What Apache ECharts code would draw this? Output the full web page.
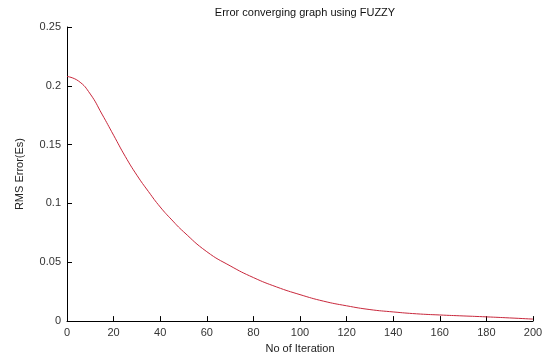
<!DOCTYPE html>
<html>
<head>
<meta charset="utf-8">
<script src="https://cdn.jsdelivr.net/npm/echarts@6/dist/echarts.min.js"></script>
<style>
  html, body { margin: 0; padding: 0; background: #fff; }
  #chart { width: 553px; height: 359px; }
</style>
</head>
<body>
<div id="chart"></div>
<script>
// iteration numbers and RMS error
let iterations = [0, 5, 10, 15, 20, 25, 30, 35, 40, 45, 50, 60, 70, 80, 90, 100, 110, 120, 130, 140, 150, 160, 170, 180, 190, 200];
let rmsError = [0.208, 0.204, 0.193, 0.176, 0.158, 0.140, 0.124, 0.110, 0.097, 0.086, 0.076, 0.059, 0.047, 0.037, 0.029, 0.0225, 0.017, 0.013, 0.0098, 0.0078, 0.0062, 0.0052, 0.0044, 0.0036, 0.0027, 0.0017];

let myChart = echarts.init(document.getElementById('chart'));
let fontFam = 'Liberation Sans, Arial, sans-serif';
let lineData = [];
for (let i = 0; i < iterations.length; i++) {
    lineData.push([iterations[i], rmsError[i]]);
}
let option = {
    animation: false,
    title: {
        text: 'Error converging graph using FUZZY',
        left: 300,
        textAlign: 'center',
        top: 2,
        textStyle: {fontSize: 11, fontWeight: 'normal', color: '#111', fontFamily: fontFam}
    },
    grid: {
        left: 67,
        right: 20,
        top: 27,
        bottom: 32
    },
    xAxis: {
        type: 'value',
        min: 0,
        max: 200,
        interval: 20,
        name: 'No of Iteration',
        nameLocation: 'middle',
        nameGap: 21,
        nameTextStyle: {fontSize: 11, color: '#222', fontFamily: fontFam},
        axisLine: {lineStyle: {color: '#000', width: 1}},
        axisTick: {inside: true, length: 5, lineStyle: {color: '#000'}},
        axisLabel: {fontSize: 11, color: '#333', margin: 6, fontFamily: fontFam},
        splitLine: {show: false}
    },
    yAxis: {
        type: 'value',
        min: 0,
        max: 0.25,
        interval: 0.05,
        name: 'RMS Error(Es)',
        nameLocation: 'middle',
        nameGap: 42,
        nameTextStyle: {fontSize: 11, color: '#222', fontFamily: fontFam},
        axisLine: {show: true, lineStyle: {color: '#000', width: 1}},
        axisTick: {show: true, inside: true, length: 5, lineStyle: {color: '#000'}},
        axisLabel: {fontSize: 11, color: '#333', margin: 6, fontFamily: fontFam},
        splitLine: {show: false}
    },
    series: [{
        type: 'line',
        data: lineData,
        smooth: true,
        symbol: 'none',
        lineStyle: {color: '#c8283c', width: 1}
    }]
};
myChart.setOption(option);
</script>
</body>
</html>
